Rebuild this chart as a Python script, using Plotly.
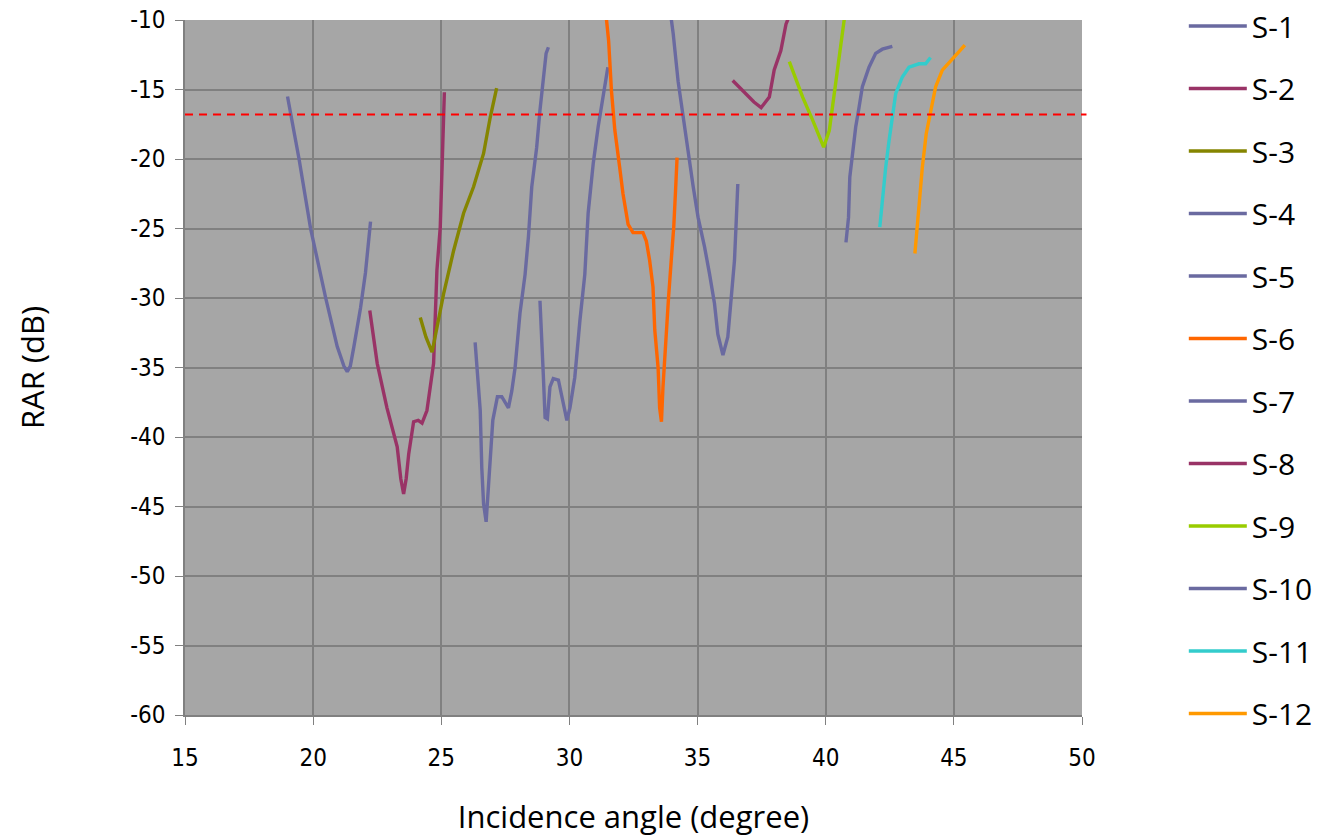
import plotly.graph_objects as go

# Measured reflection-amplitude ratio (RAR) vs. incidence angle, one sweep per sample
s1_x = [19.0, 19.2, 19.45, 19.9, 20.2, 20.49, 20.94, 21.2, 21.33, 21.45, 21.59, 21.85, 22.04, 22.24]
s1_y = [-15.5, -17.5, -20.0, -25.0, -27.6, -30.0, -33.5, -34.9, -35.3, -34.9, -33.5, -30.7, -28.2, -24.5]

s2_x = [22.21, 22.5, 22.88, 23.28, 23.42, 23.53, 23.63, 23.73, 23.92, 24.1, 24.25, 24.44, 24.7, 24.83, 24.96, 25.03, 25.09, 25.12]
s2_y = [-30.9, -34.7, -37.9, -40.7, -43.0, -44.1, -43.0, -41.2, -38.9, -38.8, -39.0, -38.1, -34.7, -28.0, -24.9, -20.6, -17.9, -15.2]

s3_x = [24.18, 24.4, 24.64, 24.83, 25.09, 25.48, 25.87, 26.26, 26.65, 26.91, 27.16]
s3_y = [-31.4, -32.8, -33.9, -32.1, -29.7, -26.6, -23.9, -22.0, -19.6, -17.0, -14.9]

s4_x = [26.32, 26.39, 26.52, 26.58, 26.65, 26.75, 26.88, 27.01, 27.19, 27.36, 27.62, 27.75, 27.88, 28.07, 28.27, 28.40, 28.53, 28.72, 28.85, 28.98, 29.09, 29.18]
s4_y = [-33.2, -35.2, -38.1, -42.2, -44.8, -46.1, -42.4, -38.8, -37.1, -37.1, -37.9, -36.7, -35.0, -31.1, -28.3, -25.6, -22.0, -19.2, -16.5, -14.4, -12.4, -11.96]

s5_x = [28.85, 28.91, 28.98, 29.05, 29.14, 29.24, 29.37, 29.57, 29.76, 29.90, 30.02, 30.21, 30.41, 30.60, 30.73, 30.93, 31.12, 31.32, 31.45, 31.50]
s5_y = [-30.2, -32.3, -35.5, -38.6, -38.7, -36.4, -35.8, -35.9, -37.6, -38.8, -37.9, -35.7, -31.6, -28.3, -23.9, -20.3, -17.7, -15.3, -13.6, -13.4]

s6_x = [31.42, 31.53, 31.64, 31.77, 31.96, 32.09, 32.29, 32.48, 32.87, 33.0, 33.13, 33.26, 33.33, 33.46, 33.52, 33.59, 33.65, 33.75, 33.87, 33.98, 34.07, 34.14, 34.20]
s6_y = [-9.5, -11.5, -15.1, -17.9, -20.6, -22.5, -24.7, -25.3, -25.3, -25.9, -27.3, -29.2, -32.3, -35.0, -37.9, -38.9, -36.4, -33.1, -29.9, -27.1, -24.9, -22.3, -19.9]

s7_x = [33.95, 34.05, 34.24, 34.44, 34.63, 34.83, 35.02, 35.27, 35.47, 35.66, 35.79, 35.99, 36.18, 36.31, 36.44, 36.51, 36.57]
s7_y = [-9.6, -11.0, -14.4, -17.0, -19.6, -22.0, -24.2, -26.3, -28.3, -30.4, -32.6, -34.1, -32.8, -29.9, -27.3, -24.4, -21.8]

s8_x = [36.37, 36.89, 37.2, 37.48, 37.80, 37.99, 38.25, 38.45, 38.60]
s8_y = [-14.35, -15.3, -15.9, -16.3, -15.55, -13.6, -12.2, -10.3, -9.6]

s9_x = [38.58, 39.10, 39.49, 39.92, 40.14, 40.33, 40.53, 40.72, 40.80]
s9_y = [-13.0, -15.55, -17.2, -19.15, -17.95, -15.3, -12.9, -10.0, -9.4]

s10_x = [40.79, 40.89, 40.94, 41.04, 41.17, 41.30, 41.43, 41.69, 41.95, 42.21, 42.60]
s10_y = [-26.0, -24.2, -21.3, -19.6, -17.7, -16.3, -14.8, -13.4, -12.4, -12.1, -11.9]

s11_x = [42.11, 42.21, 42.34, 42.47, 42.60, 42.73, 42.99, 43.25, 43.64, 43.90, 44.09]
s11_y = [-24.9, -23.0, -20.6, -18.7, -16.75, -15.3, -14.1, -13.4, -13.15, -13.15, -12.7]

s12_x = [43.48, 43.57, 43.66, 43.77, 43.92, 44.09, 44.29, 44.55, 44.94, 45.43]
s12_y = [-26.8, -24.9, -23.0, -20.6, -18.2, -16.75, -14.8, -13.6, -12.8, -11.8]

series_names = ["S-1", "S-2", "S-3", "S-4", "S-5", "S-6", "S-7", "S-8", "S-9", "S-10", "S-11", "S-12"]
series_x = [s1_x, s2_x, s3_x, s4_x, s5_x, s6_x, s7_x, s8_x, s9_x, s10_x, s11_x, s12_x]
series_y = [s1_y, s2_y, s3_y, s4_y, s5_y, s6_y, s7_y, s8_y, s9_y, s10_y, s11_y, s12_y]
series_colors = ["#6A6AA0", "#993366", "#858500", "#6A6AA0", "#6A6AA0", "#FF6600",
                 "#6A6AA0", "#993366", "#99CC00", "#6A6AA0", "#33CCCC", "#FF9900"]

x_ticks = [15, 20, 25, 30, 35, 40, 45, 50]
y_ticks = [-60, -55, -50, -45, -40, -35, -30, -25, -20, -15, -10]

threshold_db = -16.8

fig = go.Figure()
for name, xs, ys, col in zip(series_names, series_x, series_y, series_colors):
    fig.add_trace(go.Scatter(
        x=xs, y=ys, mode="lines", name=name, legendgroup=name,
        line=dict(color=col, width=3.4),
    ))

fig.add_shape(type="line", xref="paper", x0=0, x1=1.005, yref="y",
              y0=threshold_db, y1=threshold_db,
              line=dict(color="#FF0000", width=2, dash="8px,6px"))

axis_font = dict(family="DejaVu Sans Condensed", size=24, color="#000000")
title_font = dict(family="Open Sans", size=31, color="#000000")
fig.update_layout(
    width=1325, height=839,
    margin=dict(l=185, r=243, t=20, b=124, autoexpand=False),
    paper_bgcolor="#FFFFFF",
    plot_bgcolor="#A6A6A6",
    showlegend=True,
    legend=dict(
        x=1.1135, y=1.0, xanchor="left", yanchor="top", yref="container",
        maxheight=839,
        font=dict(family="Open Sans", size=30, color="#000000"),
        tracegroupgap=20.5, itemwidth=58, bgcolor="rgba(0,0,0,0)",
    ),
    xaxis=dict(
        range=[15, 50], tickvals=x_ticks, ticktext=[str(v) for v in x_ticks],
        showgrid=True, gridcolor="#808080", gridwidth=1.5,
        showline=True, linecolor="#808080", linewidth=1.5,
        ticks="outside", ticklen=8, tickcolor="#808080",
        ticklabelstandoff=12,
        tickfont=axis_font, zeroline=False,
        title=dict(text="Incidence angle (degree)", standoff=36, font=title_font),
    ),
    yaxis=dict(
        range=[-60, -10], tickvals=y_ticks, ticktext=[str(v) for v in y_ticks],
        showgrid=True, gridcolor="#808080", gridwidth=1.5,
        showline=True, linecolor="#808080", linewidth=1.5,
        ticks="outside", ticklen=8, tickcolor="#808080",
        ticklabelstandoff=5,
        tickfont=axis_font, zeroline=False,
        title=dict(text="RAR (dB)", standoff=76, font=title_font),
    ),
)

fig.write_html("out.html")
